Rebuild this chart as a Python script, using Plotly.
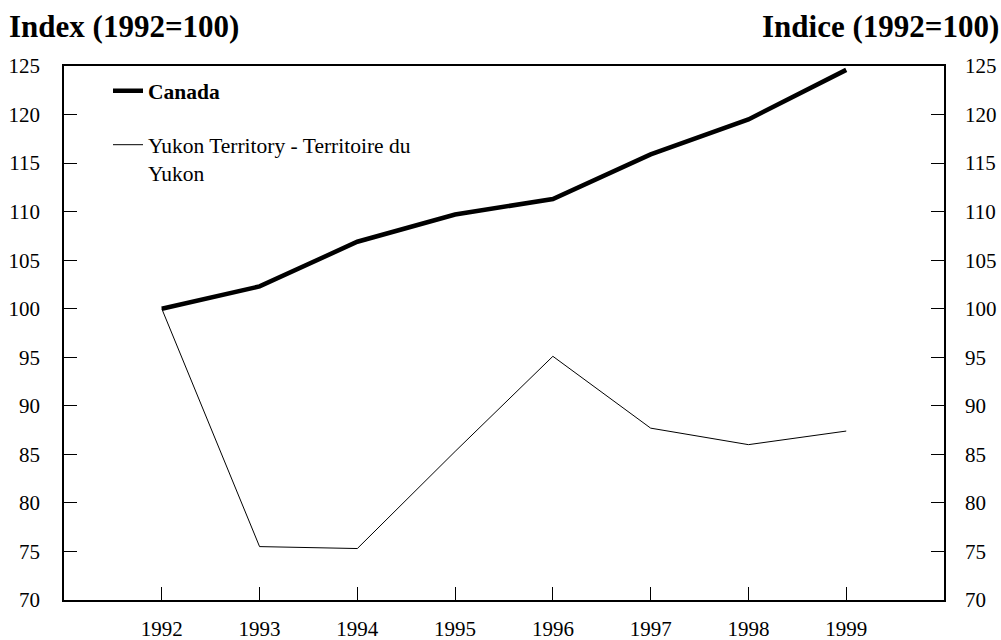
import plotly.graph_objects as go

years = [1992, 1993, 1994, 1995, 1996, 1997, 1998, 1999]
canada = [100.0, 102.3, 106.9, 109.7, 111.3, 115.9, 119.5, 124.6]
yukon = [100.0, 75.5, 75.3, 85.3, 95.1, 87.7, 86.0, 87.4]

y_ticks = [70, 75, 80, 85, 90, 95, 100, 105, 110, 115, 120, 125]

serif = "Liberation Serif, Times New Roman, serif"

fig = go.Figure()

fig.add_trace(
    go.Scatter(
        x=years,
        y=canada,
        mode="lines",
        name="<b>Canada</b>",
        line=dict(color="black", width=4.5),
        legendgroup="a",
    )
)

# plotted on the right-hand axis (same range) so that axis gets drawn
fig.add_trace(
    go.Scatter(
        x=years,
        y=yukon,
        mode="lines",
        name="Yukon Territory - Territoire du<br>Yukon",
        line=dict(color="black", width=1),
        legendgroup="b",
        yaxis="y2",
    )
)

axis_style = dict(
    range=[70, 125],
    tickvals=y_ticks,
    ticks="inside",
    ticklen=13,
    tickwidth=1,
    tickcolor="black",
    showline=True,
    linecolor="black",
    linewidth=1.5,
    showgrid=False,
    zeroline=False,
    automargin=False,
    tickfont=dict(family=serif, size=21, color="black"),
)

fig.update_layout(
    width=1001,
    height=640,
    margin=dict(l=64, r=57, t=66, b=40),
    plot_bgcolor="white",
    paper_bgcolor="white",
    font=dict(family=serif, color="black"),
    xaxis=dict(
        range=[1991, 2000],
        tickvals=years,
        ticks="inside",
        ticklen=13,
        tickcolor="black",
        showline=True,
        mirror=True,
        linecolor="black",
        linewidth=1.5,
        showgrid=False,
        zeroline=False,
        automargin=False,
        tickfont=dict(family=serif, size=21, color="black"),
        ticklabelstandoff=9,
    ),
    yaxis=dict(side="left", ticklabelstandoff=18, **axis_style),
    yaxis2=dict(side="right", overlaying="y", ticklabelstandoff=15, **axis_style),
    legend=dict(
        x=0.05,
        y=0.992,
        xanchor="left",
        yanchor="top",
        bgcolor="rgba(0,0,0,0)",
        font=dict(family=serif, size=21.5, color="black"),
        tracegroupgap=23,
        valign="top",
    ),
    annotations=[
        dict(
            text="<b>Index (1992=100)</b>",
            x=0,
            y=1,
            xref="paper",
            yref="paper",
            xanchor="left",
            yanchor="middle",
            xshift=-57,
            yshift=40,
            showarrow=False,
            font=dict(family=serif, size=31, color="black"),
        ),
        dict(
            text="<b>Indice (1992=100)</b>",
            x=1,
            y=1,
            xref="paper",
            yref="paper",
            xanchor="right",
            yanchor="middle",
            xshift=57,
            yshift=40,
            showarrow=False,
            font=dict(family=serif, size=31, color="black"),
        ),
    ],
)

# page has a default 8px body margin; drop it so the figure fills the window
fig.write_html(
    "out.html",
    config={"displayModeBar": False},
    post_script="document.body.style.margin = '0';",
)
